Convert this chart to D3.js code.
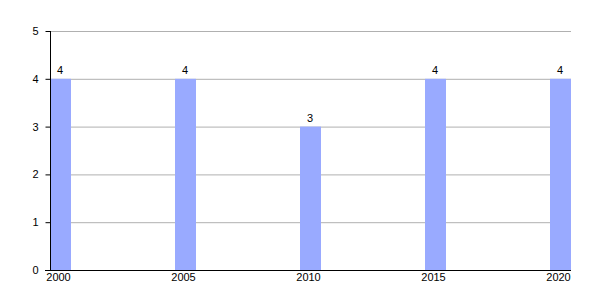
<!DOCTYPE html>
<html>
<head>
<meta charset="utf-8">
<script src="https://cdn.jsdelivr.net/npm/d3@7"></script>
<style>
body { margin: 0; background: #fff; }
svg { display: block; font-family: "Liberation Sans", Arial, sans-serif; }
</style>
</head>
<body>
<svg id="chart" width="600" height="300"></svg>
<script>
const years = [2000, 2005, 2010, 2015, 2020];
const values = [4, 4, 3, 4, 4];
const yTicks = [0, 1, 2, 3, 4, 5];
const xTicks = [2000, 2005, 2010, 2015, 2020];

const svg = d3.select("#chart");
const x = d3.scaleLinear().domain([2000, 2020]).range([50, 550]);
const y = d3.scaleLinear().domain([0, 5]).range([270, 31]);
const barW = 21;

// gridlines
svg.append("g").selectAll("line").data(yTicks.filter(d => d > 0)).join("line")
  .attr("x1", 50).attr("x2", 571)
  .attr("y1", d => y(d) + 0.5).attr("y2", d => y(d) + 0.5)
  .attr("stroke", "#b0b0b0").attr("stroke-width", 1);

// bars
svg.append("g").selectAll("rect").data(years).join("rect")
  .attr("x", d => x(d))
  .attr("width", barW)
  .attr("y", (d, i) => y(values[i]))
  .attr("height", (d, i) => y(0) - y(values[i]))
  .attr("fill", "#99aaff");

// value labels
svg.append("g").selectAll("text").data(years).join("text")
  .attr("x", d => x(d) + 10)
  .attr("y", (d, i) => y(values[i]) - 5)
  .attr("text-anchor", "middle")
  .attr("font-size", 11)
  .attr("fill", "#000")
  .text((d, i) => values[i]);

// y axis
const yAxis = d3.axisLeft(y).tickValues(yTicks).tickSize(5).tickPadding(7).tickFormat(d3.format("d"));
const gy = svg.append("g").attr("transform", "translate(50.5,0)").call(yAxis);
gy.select(".domain").attr("d", `M0,${y(5)}V${y(0)}`).attr("stroke", "#000");
gy.selectAll("text").attr("font-size", 11).attr("font-family", "Liberation Sans, Arial, sans-serif").attr("fill", "#000");

// x axis
const xAxis = d3.axisBottom(x).tickValues(xTicks).tickSize(0).tickPadding(3).tickFormat(d3.format("d"));
const gx = svg.append("g").attr("transform", `translate(0,${y(0) + 0.5})`).call(xAxis);
gx.select(".domain").attr("d", "M45,0H571").attr("stroke", "#000");
gx.selectAll(".tick").attr("transform", d => `translate(${x(d) + 8.5},0)`);
gx.selectAll("text").attr("font-size", 11).attr("font-family", "Liberation Sans, Arial, sans-serif").attr("fill", "#000");
</script>
</body>
</html>
